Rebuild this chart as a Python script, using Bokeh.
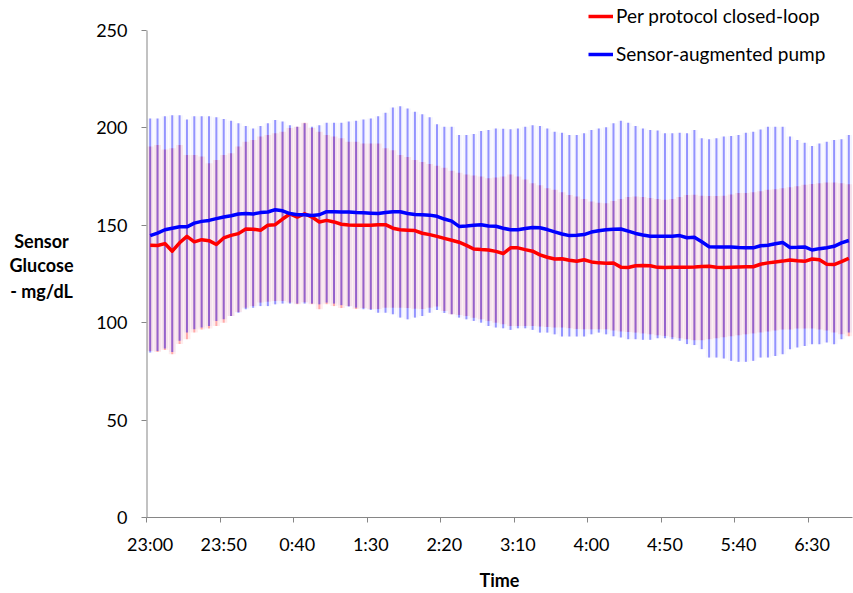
from bokeh.plotting import figure
from bokeh.layouts import row
from bokeh.models import Range1d, LinearAxis, FixedTicker, Legend, LegendItem, ColumnDataSource
from bokeh.core.properties import value
from bokeh.embed import file_html
from bokeh.resources import INLINE

FONT = "Lato"

tick_positions = [0, 10, 20, 30, 40, 50, 60, 70, 80, 90]
tick_labels = ["23:00", "23:50", "0:40", "1:30", "2:20", "3:10", "4:00", "4:50", "5:40", "6:30"]
y_ticks = [0, 50, 100, 150, 200, 250]
y_title_lines = ["Sensor", "Glucose", "- mg/dL"]

closed_loop_median = [
    139.7, 139.6, 140.6, 136.7, 141.0, 144.3, 141.5, 142.6, 142.1, 140.1,
    143.5, 144.8, 145.7, 148.1, 148.0, 147.4, 150.0, 150.3, 153.2, 155.8,
    154.2, 155.9, 154.2, 151.7, 152.5, 151.7, 150.5, 150.1, 150.0, 150.0,
    150.0, 150.3, 150.3, 148.5, 147.7, 147.5, 147.3, 145.9, 145.2, 144.3,
    143.3, 142.3, 141.3, 139.7, 137.8, 137.5, 137.3, 136.6, 135.5, 138.4,
    138.4, 137.5, 136.7, 134.8, 133.6, 132.7, 132.8, 132.0, 131.5, 132.3,
    131.2, 130.7, 130.5, 130.6, 128.5, 128.3, 129.2, 129.3, 129.2, 128.4,
    128.3, 128.4, 128.5, 128.5, 128.6, 128.8, 129.0, 128.5, 128.3, 128.5,
    128.6, 128.7, 128.7, 130.0, 130.7, 131.2, 131.6, 132.2, 131.8, 131.5,
    132.7, 132.3, 130.0, 129.8, 131.3, 133.0]

closed_loop_upper = [
    190.4, 191.2, 188.9, 189.5, 191.2, 186.1, 186.1, 185.3, 181.8, 183.5,
    186.1, 187.0, 190.4, 192.9, 193.8, 195.5, 196.3, 197.2, 198.0, 199.9,
    200.6, 202.6, 199.9, 198.0, 196.3, 195.5, 194.6, 192.9, 192.9, 192.0,
    192.0, 192.0, 189.5, 188.5, 186.1, 185.0, 183.5, 182.5, 181.5, 180.5,
    179.5, 178.0, 177.0, 176.0, 175.5, 175.0, 174.1, 174.5, 175.0, 176.0,
    175.0, 173.5, 171.6, 170.5, 169.0, 168.2, 167.0, 165.5, 164.8, 163.5,
    162.2, 161.5, 161.3, 162.5, 163.5, 164.5, 164.8, 164.5, 164.0, 163.5,
    163.1, 163.5, 164.5, 165.5, 165.6, 165.2, 165.0, 165.0, 165.2, 165.8,
    166.5, 166.5, 167.0, 167.5, 168.2, 168.5, 169.0, 169.5, 170.0, 170.8,
    171.2, 171.6, 172.0, 172.0, 171.6, 171.0]

closed_loop_lower = [
    85.5, 85.0, 86.0, 83.8, 89.0, 91.5, 94.9, 96.5, 97.0, 98.3,
    100.0, 103.4, 105.5, 107.7, 108.5, 110.3, 110.8, 111.1, 111.1, 110.3,
    109.5, 110.5, 109.5, 106.9, 109.5, 108.5, 107.5, 108.5, 107.0, 107.5,
    107.0, 107.0, 107.7, 107.7, 107.7, 107.5, 107.2, 107.0, 107.7, 108.3,
    106.0, 104.3, 104.0, 103.4, 102.5, 101.7, 100.8, 100.0, 99.2, 98.3,
    98.3, 98.3, 98.3, 98.0, 97.8, 97.5, 97.5, 97.2, 96.8, 96.6,
    96.6, 96.6, 96.6, 96.0, 95.5, 95.2, 94.9, 94.5, 94.0, 93.5,
    93.2, 92.5, 92.0, 91.5, 91.0, 91.0, 91.5, 92.0, 92.5, 93.0,
    93.5, 94.0, 94.5, 95.0, 95.5, 96.0, 96.5, 96.5, 97.0, 97.0,
    97.0, 96.5, 96.0, 95.0, 94.0, 93.0]

pump_median = [
    144.7, 146.0, 147.7, 148.5, 149.2, 149.2, 151.1, 152.0, 152.5, 153.4,
    154.2, 154.9, 155.8, 156.0, 155.8, 156.5, 156.8, 158.0, 157.4, 156.0,
    155.4, 155.4, 155.0, 155.4, 157.0, 157.0, 156.8, 156.8, 156.5, 156.4,
    156.2, 156.0, 156.5, 156.9, 156.9, 156.0, 155.5, 155.4, 155.2, 154.6,
    153.2, 152.1, 149.4, 149.6, 150.0, 150.3, 149.6, 149.5, 148.5, 147.7,
    147.7, 148.3, 148.8, 148.7, 147.8, 146.6, 145.5, 144.7, 144.9, 145.2,
    146.5, 147.2, 147.7, 148.0, 148.1, 147.0, 145.8, 145.0, 144.4, 144.3,
    144.3, 144.4, 144.7, 143.6, 143.8, 141.5, 139.0, 138.9, 138.9, 138.9,
    138.6, 138.4, 138.4, 139.5, 139.7, 140.5, 141.2, 138.6, 138.7, 138.9,
    137.3, 138.0, 138.5, 139.2, 141.0, 142.2]

pump_upper = [
    204.8, 204.8, 206.0, 206.5, 206.5, 204.3, 206.0, 205.9, 205.9, 205.5,
    204.5, 203.7, 202.3, 201.0, 199.7, 201.0, 202.3, 204.0, 203.2, 201.4,
    200.6, 202.3, 200.6, 201.4, 202.6, 202.6, 202.6, 203.2, 203.7, 204.3,
    204.8, 206.0, 207.7, 210.5, 211.1, 209.9, 208.3, 207.0, 205.4, 201.8,
    200.6, 200.6, 196.3, 196.3, 196.8, 198.4, 198.9, 199.7, 199.5, 199.3,
    199.7, 200.6, 201.4, 201.0, 199.7, 198.0, 197.5, 196.3, 196.3, 197.2,
    198.9, 199.7, 200.3, 202.3, 203.7, 202.6, 201.0, 199.7, 198.9, 198.6,
    197.2, 197.2, 197.5, 197.2, 198.9, 194.6, 194.1, 194.6, 195.5, 195.8,
    196.3, 197.5, 198.0, 199.2, 200.6, 200.6, 200.6, 195.5, 193.8, 192.4,
    190.7, 192.0, 192.9, 193.8, 194.1, 196.3]

pump_lower = [
    84.7, 85.5, 86.7, 85.0, 90.7, 94.9, 96.6, 97.5, 98.3, 100.9,
    101.7, 103.4, 105.1, 106.9, 107.7, 108.5, 108.5, 109.4, 109.8, 109.8,
    109.8, 109.8, 109.8, 109.4, 110.3, 109.8, 109.0, 108.3, 107.7, 106.9,
    106.5, 105.1, 105.1, 104.3, 102.6, 101.7, 102.6, 103.4, 105.1, 106.5,
    105.0, 104.3, 102.6, 101.7, 100.9, 100.0, 98.3, 97.5, 97.1, 96.3,
    97.1, 97.1, 96.3, 94.9, 94.9, 94.0, 92.9, 92.9, 92.9, 92.9,
    94.0, 94.9, 94.0, 93.0, 92.4, 91.5, 91.5, 91.2, 91.2, 92.0,
    92.0, 91.5, 90.7, 89.0, 88.5, 86.4, 82.1, 82.1, 81.6, 80.4,
    79.9, 79.9, 80.4, 82.1, 82.1, 82.9, 83.8, 86.4, 87.2, 88.0,
    88.9, 88.9, 89.8, 88.9, 91.5, 94.9]

n = len(pump_median)
xs = list(range(n))

src = ColumnDataSource(dict(
    x=xs,
    r_med=closed_loop_median, r_hi=closed_loop_upper, r_lo=closed_loop_lower,
    b_med=pump_median, b_hi=pump_upper, b_lo=pump_lower,
))

TOTAL_W, TOTAL_H = 853, 593
LEFT_W = 90
FRAME_LEFT = 146
FRAME_BOTTOM = 518   # expected frame bottom (page px)
Y_TOP_PX = 30        # where 250 sits
y_end = 250 * FRAME_BOTTOM / (FRAME_BOTTOM - Y_TOP_PX)
yr = Range1d(0, y_end)

# ---- main chart ----
p = figure(width=TOTAL_W - LEFT_W, height=TOTAL_H, output_backend="svg", toolbar_location=None,
           x_range=Range1d(-0.5, n - 0.5), y_range=yr,
           x_axis_type=None, y_axis_type=None,
           min_border_left=FRAME_LEFT - LEFT_W, min_border_right=1, min_border_top=0,
           min_border_bottom=60)
p.outline_line_color = None
p.xgrid.visible = False
p.ygrid.visible = False
p.background_fill_color = "white"

axis_grey = "#868686"

# soft glows
p.vbar(x="x", width=0.95, bottom="r_lo", top="r_hi", source=src,
       fill_color="#ff0000", fill_alpha=0.075, line_color=None)
p.vbar(x="x", width=0.9, bottom="b_lo", top="b_hi", source=src,
       fill_color="#0000ff", fill_alpha=0.04, line_color=None)
# bars
p.segment(x0="x", y0="r_lo", x1="x", y1="r_hi", source=src,
          line_color="#ff0000", line_alpha=0.28, line_width=2)
p.segment(x0="x", y0="b_lo", x1="x", y1="b_hi", source=src,
          line_color="#0000ff", line_alpha=0.4, line_width=2)

r_line = p.line("x", "r_med", source=src, line_color="#ff0000", line_width=3.5, line_join="round")
b_line = p.line("x", "b_med", source=src, line_color="#0000ff", line_width=3.5, line_join="round")

# y axis line only up to 250
p.segment(x0=[-0.5], y0=[0], x1=[-0.5], y1=[y_ticks[-1]], line_color=axis_grey, line_width=2)

yax = LinearAxis(ticker=FixedTicker(ticks=y_ticks),
                 axis_line_color=None, major_tick_line_color=axis_grey,
                 major_tick_in=0, major_tick_out=5, minor_tick_line_color=None,
                 major_label_standoff=14,
                 major_label_text_font=FONT, major_label_text_font_size="18px",
                 major_label_text_color="black")
p.add_layout(yax, "left")

xax_ticks = LinearAxis(ticker=FixedTicker(ticks=[t - 0.5 for t in tick_positions]),
                       axis_line_color=axis_grey, major_tick_line_color=axis_grey,
                       major_tick_in=0, major_tick_out=5, minor_tick_line_color=None,
                       major_label_overrides={t - 0.5: "" for t in tick_positions},
                       major_label_standoff=0, major_label_text_font_size="1px")
p.add_layout(xax_ticks, "below")

xax_labels = LinearAxis(ticker=FixedTicker(ticks=tick_positions),
                        major_label_overrides={t: l for t, l in zip(tick_positions, tick_labels)},
                        axis_line_color=None, major_tick_line_color=None, minor_tick_line_color=None,
                        major_label_standoff=4,
                        major_label_text_font=FONT, major_label_text_font_size="18px",
                        major_label_text_color="black",
                        axis_label="Time", axis_label_standoff=11,
                        axis_label_text_font=FONT, axis_label_text_font_size="18px",
                        axis_label_text_font_style="bold", axis_label_text_color="black")
p.add_layout(xax_labels, "below")

legend = Legend(items=[LegendItem(label="Per protocol closed-loop", renderers=[r_line]),
                       LegendItem(label="Sensor-augmented pump", renderers=[b_line])],
                location=(588 - FRAME_LEFT, FRAME_BOTTOM - 66), orientation="vertical",
                glyph_width=25, glyph_height=20, label_height=20, spacing=15,
                label_standoff=3, padding=0, margin=0,
                border_line_color=None, background_fill_alpha=0,
                label_text_font=FONT, label_text_font_size="19px", label_text_color="black")
p.add_layout(legend, "center")

# ---- left panel holding the horizontal y-axis title (frame aligned with main frame) ----
lp = figure(width=LEFT_W, height=TOTAL_H, output_backend="svg", toolbar_location=None,
            x_range=Range1d(0, LEFT_W), y_range=yr,
            x_axis_type=None, y_axis_type=None, min_border=0)
lp.outline_line_color = None
lp.xgrid.visible = False
lp.ygrid.visible = False
px_per_unit = (FRAME_BOTTOM - Y_TOP_PX) / 250.0
title_y = [(FRAME_BOTTOM - yy) / px_per_unit for yy in (241, 265, 291)]
lp.text(x=[41, 41, 41], y=title_y, text=y_title_lines,
        text_align="center", text_baseline="middle",
        text_font=value(FONT), text_font_size="18px", text_font_style="bold",
        text_color="black")

layout = row(lp, p)
open("out.html", "w").write(file_html(layout, INLINE))
